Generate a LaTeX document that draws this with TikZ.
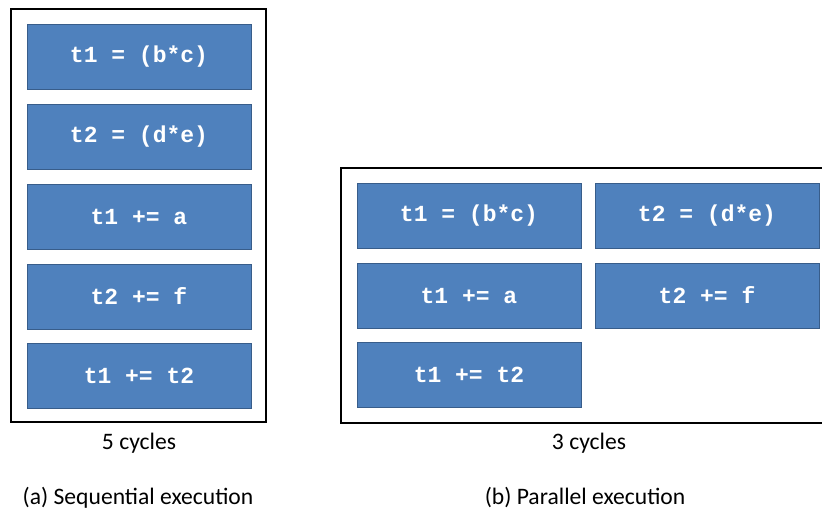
\documentclass[tikz,border=0pt]{standalone}
\usepackage{fontspec}
\setmainfont{Carlito}
\newfontfamily\codefont{Liberation Mono}
\definecolor{opblue}{RGB}{79,129,189}
\definecolor{opborder}{RGB}{56,93,138}
\tikzset{
  opbox/.style={rectangle, fill=opblue, draw=opborder, line width=1pt,
    minimum width=224pt, minimum height=65pt, inner sep=0pt,
    text=white, font=\codefont\bfseries\fontsize{23}{27}\selectfont},
  frame/.style={draw=black, line width=2pt},
  caption/.style={font=\fontsize{23.6}{28}\selectfont, text=black, inner sep=0pt}
}
\begin{document}
\begin{tikzpicture}[x=1pt,y=-1pt]
\useasboundingbox (0,0) rectangle (822,512);
% frames
\draw[frame] (11,9) rectangle (266,422);
\draw[frame] (822,168) -| (341,423) -- (822,423);
% sequential
\node[opbox] (s1) at (139,56.5) {t1 = (b*c)};
\node[opbox] (s2) at (139,136.5) {t2 = (d*e)};
\node[opbox] (s3) at (139,216.5) {t1 += a};
\node[opbox] (s4) at (139,296.5) {t2 += f};
\node[opbox] (s5) at (139,376) {t1 += t2};
% parallel
\node[opbox] (p1) at (469,215.5) {t1 = (b*c)};
\node[opbox] (p2) at (707,215.5) {t2 = (d*e)};
\node[opbox] (p3) at (469,295.5) {t1 += a};
\node[opbox] (p4) at (707,295.5) {t2 += f};
\node[opbox] (p5) at (469,374.5) {t1 += t2};
% captions
\node[caption] (c5) at (139,443) {5 cycles};
\node[caption] (c3) at (589,443) {3 cycles};
\node[caption] (ca) at (138,498) {(a) Sequential execution};
\node[caption] (cb) at (585,497) {(b) Parallel execution};
\end{tikzpicture}
\end{document}
